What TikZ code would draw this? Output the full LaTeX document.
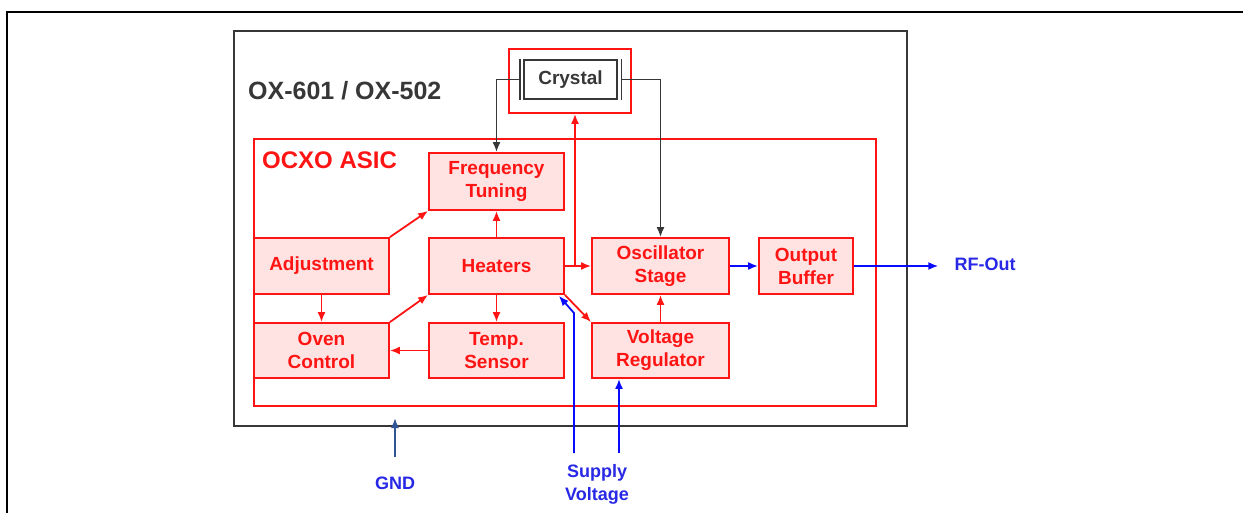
\documentclass[tikz,border=0pt]{standalone}
\usepackage{fontspec}
\setmainfont{Liberation Sans}
\usetikzlibrary{arrows.meta}
\definecolor{boxred}{RGB}{255,20,20}
\definecolor{boxfill}{RGB}{255,226,226}
\definecolor{sigblue}{RGB}{10,10,255}
\definecolor{lblblue}{RGB}{40,40,230}
\definecolor{gndblue}{RGB}{47,85,151}
\definecolor{wiregray}{RGB}{55,55,55}

\begin{document}
\begin{tikzpicture}[x=1pt,y=-1pt,
  blk/.style={draw=boxred,fill=boxfill,line width=1.8pt,text=boxred,align=center,
    inner sep=0pt,minimum width=135pt,minimum height=56pt,
    font=\fontsize{19}{23}\selectfont\bfseries},
  lbl/.style={text=lblblue,inner sep=0pt,align=center,font=\fontsize{18}{23}\selectfont\bfseries},
  tip/.style={-{Latex[length=10pt,width=8pt]}},
  rline/.style={draw=boxred,line width=1.8pt,tip},
  bline/.style={draw=sigblue,line width=1.8pt,tip},
  gwire/.style={draw=wiregray,line width=1.8pt,tip},
  gline/.style={draw=gndblue,line width=1.8pt,tip}]
  \useasboundingbox (0,0) rectangle (1243,513);
  % page frame
  \draw[line width=2.4pt] (7,513) -- (7,12) -- (1243,12);
  % module and asic
  \draw[draw=wiregray,line width=2pt] (234,31) rectangle (907,426);
  \node[anchor=west,inner sep=0pt,text=wiregray,font=\fontsize{25}{30}\selectfont\bfseries] (title) at (248,91) {OX-601 / OX-502};
  \draw[draw=boxred,line width=1.8pt] (254,139) rectangle (876,406);
  \node[anchor=west,inner sep=0pt,text=boxred,font=\fontsize{24}{28}\selectfont\bfseries] (asic) at (262,160) {OCXO ASIC};

  % crystal
  \node[draw=boxred,line width=1.8pt,minimum width=122pt,minimum height=64pt] (xbox) at (570,81) {};
  \node[draw=wiregray,line width=1.8pt,minimum width=93pt,minimum height=39pt,text=wiregray,
    font=\fontsize{19}{22}\selectfont\bfseries] (xtal) at (570.5,79.5) {Crystal};
  \draw[wiregray,line width=1.8pt] ([xshift=-3.5pt]xtal.north west) -- ([xshift=-3.5pt]xtal.south west);
  \draw[wiregray,line width=1.8pt] ([xshift=3.5pt]xtal.north east) -- ([xshift=3.5pt]xtal.south east);

  % blocks
  \node[blk,minimum height=57pt] (freq) at (496.5,181.5) {Frequency\\Tuning};
  \node[blk] (adj) at (321.5,266) {Adjustment};
  \node[blk] (heat) at (496.5,266) {Heaters};
  \node[blk,minimum height=55pt] (oven) at (321.5,350.5) {Oven\\Control};
  \node[blk,minimum height=55pt] (temp) at (496.5,350.5) {Temp.\\Sensor};
  \node[blk,minimum width=137pt] (osc) at (660.5,266) {Oscillator\\Stage};
  \node[blk,minimum width=94pt] (buf) at (806,266) {Output\\Buffer};
  \node[blk,minimum width=137pt,minimum height=55pt] (vreg) at (660.5,350.5) {Voltage\\Regulator};

  % outside labels
  \node[lbl] (rfout) at (985,264) {RF-Out};
  \node[lbl] (supply) at (597,484) {Supply\\Voltage};
  \node[lbl] (gnd) at (395,483) {GND};

  % crystal wires
  \draw[gwire] ([xshift=-3.5pt]xtal.west) -| (freq.north);
  \draw[gwire] ([xshift=3.5pt]xtal.east) -| (osc.north);

  % red links
  \draw[rline] (adj.north east) -- (freq.south west);
  \draw[rline] (heat.north) -- (freq.south);
  \draw[rline] (adj.south) -- (oven.north);
  \draw[rline] (oven.north east) -- (heat.south west);
  \draw[rline] (heat.south) -- (temp.north);
  \draw[rline] (temp.west) -- (oven.east);
  \draw[rline] (heat.east) -- (osc.west);
  \coordinate (jn) at (575,266);
  \draw[rline] (jn) -- (jn |- xbox.south);
  \draw[rline] (heat.south east) -- (vreg.north west);
  \draw[rline] (vreg.north) -- (osc.south);

  % signal and supply
  \draw[bline] (osc.east) -- (buf.west);
  \draw[bline,shorten >=16pt] (buf.east) -- (buf.east -| rfout.west);
  \coordinate (s1) at (574,453);
  \coordinate (s1b) at (574,313);
  \draw[bline] (s1) -- (s1b) -- ([xshift=-6pt,yshift=-1pt]heat.south east);
  \coordinate (s2) at (619,453);
  \draw[bline] (s2) -- (s2 |- vreg.south);
  \coordinate (g0) at (395,457);
  \draw[gline] (g0) -- (395,418);
\end{tikzpicture}
\end{document}
